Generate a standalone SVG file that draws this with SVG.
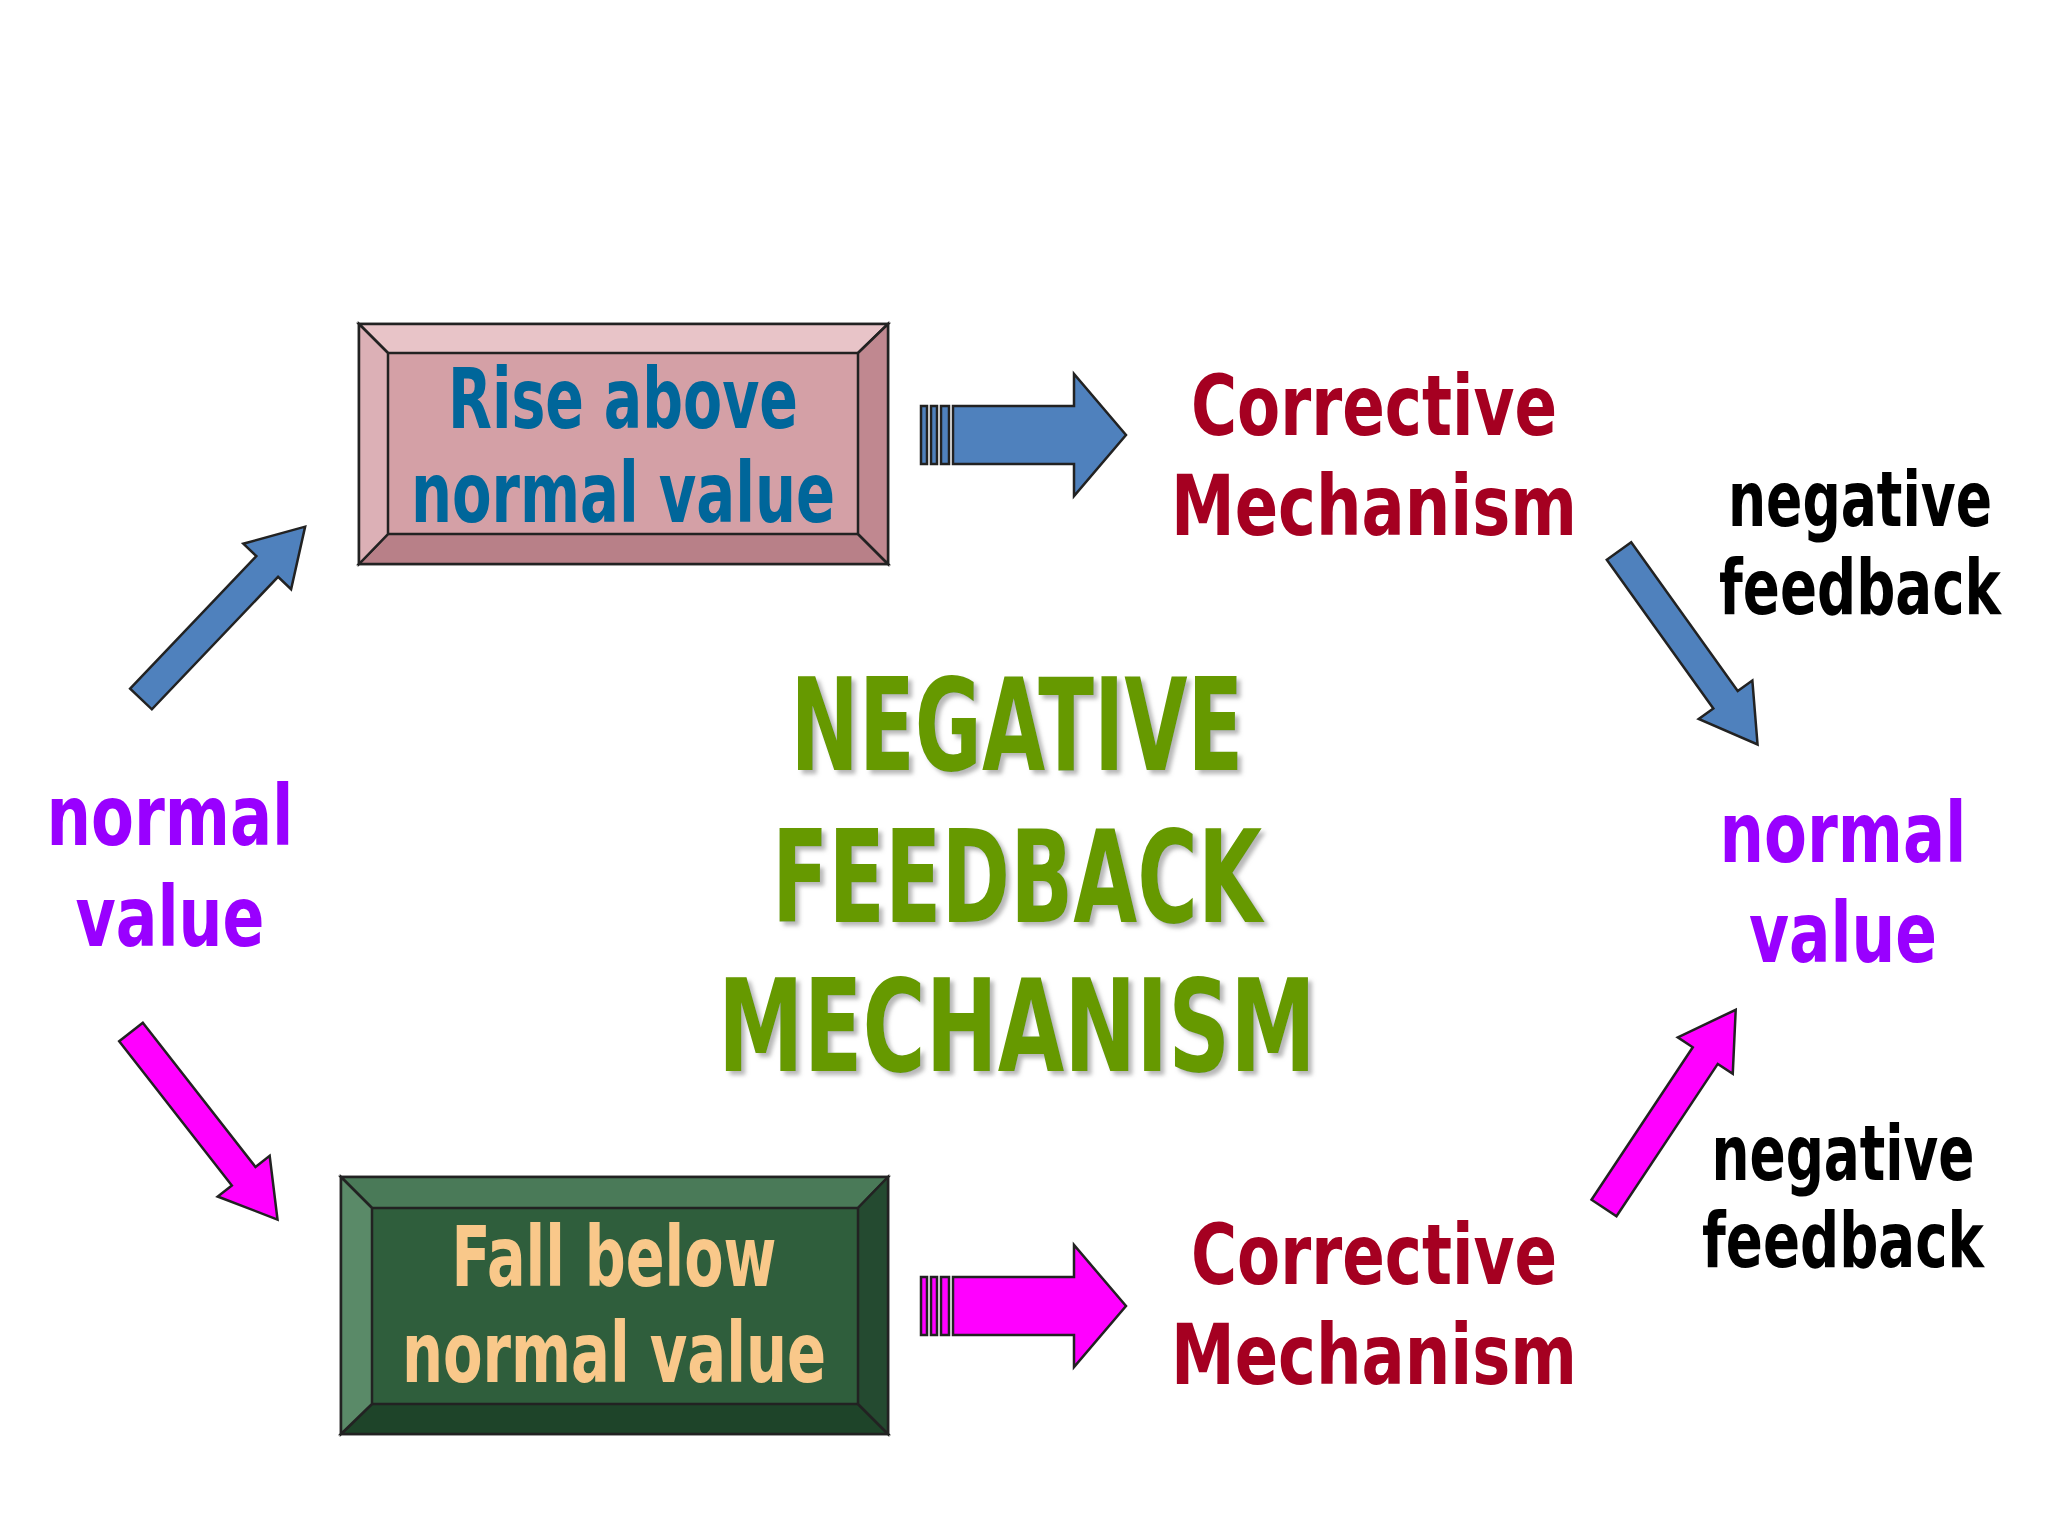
<svg xmlns="http://www.w3.org/2000/svg" width="2048" height="1536" viewBox="0 0 2048 1536">
<style>
text{font-family:"DejaVu Sans Condensed","Liberation Sans Narrow","Liberation Sans",sans-serif;font-weight:bold;text-anchor:middle}
.t{font-size:84px}
.n{font-size:76px;fill:#000}
.b{stroke:#222;stroke-width:2.5}
</style>
<defs>
<path id="dg" d="M0,-15 L183,-15 L183,-33 L238,0 L183,33 L183,15 L0,15 Z"/>
<filter id="sh"><feDropShadow dx="4" dy="4" stdDeviation="2" flood-color="#999" flood-opacity="0.7"/></filter>
</defs>
<rect width="2048" height="1536" fill="#fff"/>
<g id="rise">
<rect x="359" y="324" width="529" height="240" fill="#d4a0a6" class="b"/>
<polygon points="359,324 888,324 858,353 388,353" fill="#e8c4c8" class="b"/>
<polygon points="359,564 888,564 858,534 388,534" fill="#b88088" class="b"/>
<polygon points="359,324 388,353 388,534 359,564" fill="#dcb0b6" class="b"/>
<polygon points="888,324 858,353 858,534 888,564" fill="#c08890" class="b"/>
<text x="623" y="428" class="t" fill="#00669a" textLength="350" lengthAdjust="spacingAndGlyphs">Rise above</text>
<text x="623" y="522" class="t" fill="#00669a" textLength="424" lengthAdjust="spacingAndGlyphs">normal value</text>
</g>
<g id="fall">
<rect x="341" y="1177" width="547" height="257" fill="#2f5e3c" class="b"/>
<polygon points="341,1177 888,1177 858,1208 372,1208" fill="#4a7a58" class="b"/>
<polygon points="341,1434 888,1434 858,1404 372,1404" fill="#1e4429" class="b"/>
<polygon points="341,1177 372,1208 372,1404 341,1434" fill="#5a8a68" class="b"/>
<polygon points="888,1177 858,1208 858,1404 888,1434" fill="#244a30" class="b"/>
<text x="614" y="1286" class="t" fill="#f9c88a" textLength="325" lengthAdjust="spacingAndGlyphs">Fall below</text>
<text x="614" y="1382" class="t" fill="#f9c88a" textLength="424" lengthAdjust="spacingAndGlyphs">normal value</text>
</g>
<g id="corr1"><text x="1374" y="435" class="t" fill="#a50021" textLength="366" lengthAdjust="spacingAndGlyphs">Corrective</text><text x="1374" y="535" class="t" fill="#a50021" textLength="406" lengthAdjust="spacingAndGlyphs">Mechanism</text></g>
<g id="corr2"><text x="1374" y="1284" class="t" fill="#a50021" textLength="366" lengthAdjust="spacingAndGlyphs">Corrective</text><text x="1374" y="1384" class="t" fill="#a50021" textLength="406" lengthAdjust="spacingAndGlyphs">Mechanism</text></g>
<g id="nf1"><text x="1860" y="526" class="n" textLength="264" lengthAdjust="spacingAndGlyphs">negative</text><text x="1860" y="614" class="n" textLength="282" lengthAdjust="spacingAndGlyphs">feedback</text></g>
<g id="nf2"><text x="1843" y="1180" class="n" textLength="263" lengthAdjust="spacingAndGlyphs">negative</text><text x="1843" y="1267" class="n" textLength="282" lengthAdjust="spacingAndGlyphs">feedback</text></g>
<g id="nv1"><text x="170" y="845" class="t" fill="#9900ff" textLength="247" lengthAdjust="spacingAndGlyphs">normal</text><text x="170" y="946" class="t" fill="#9900ff" textLength="189" lengthAdjust="spacingAndGlyphs">value</text></g>
<g id="nv2"><text x="1843" y="862" class="t" fill="#9900ff" textLength="247" lengthAdjust="spacingAndGlyphs">normal</text><text x="1843" y="962" class="t" fill="#9900ff" textLength="188" lengthAdjust="spacingAndGlyphs">value</text></g>
<g id="title" fill="#669900" font-size="128" filter="url(#sh)">
<text x="1017" y="770" textLength="453" lengthAdjust="spacingAndGlyphs">NEGATIVE</text><text x="1017" y="922" textLength="490" lengthAdjust="spacingAndGlyphs">FEEDBACK</text><text x="1017" y="1071" textLength="598" lengthAdjust="spacingAndGlyphs">MECHANISM</text>
</g>
<g id="connectors" stroke="#222" stroke-width="2.5">
<g fill="#4f81bd">
<rect x="921" y="406" width="6" height="58"/><rect x="931" y="406" width="6" height="58"/><rect x="941" y="406" width="8" height="58"/>
<path d="M953,406 L1074,406 L1074,374 L1126,435 L1074,496 L1074,464 L953,464 Z"/>
<use href="#dg" transform="translate(141,699) rotate(-46.4)"/>
<use href="#dg" transform="translate(1619,551) rotate(54.4)"/>
</g>
<g fill="#ff00ff">
<rect x="921" y="1277" width="6" height="58"/><rect x="931" y="1277" width="6" height="58"/><rect x="941" y="1277" width="8" height="58"/>
<path d="M953,1277 L1074,1277 L1074,1245 L1126,1306 L1074,1367 L1074,1335 L953,1335 Z"/>
<use href="#dg" transform="translate(131,1032) rotate(52)"/>
<use href="#dg" transform="translate(1604,1208) rotate(-56.4)"/>
</g>
</g>
</svg>
